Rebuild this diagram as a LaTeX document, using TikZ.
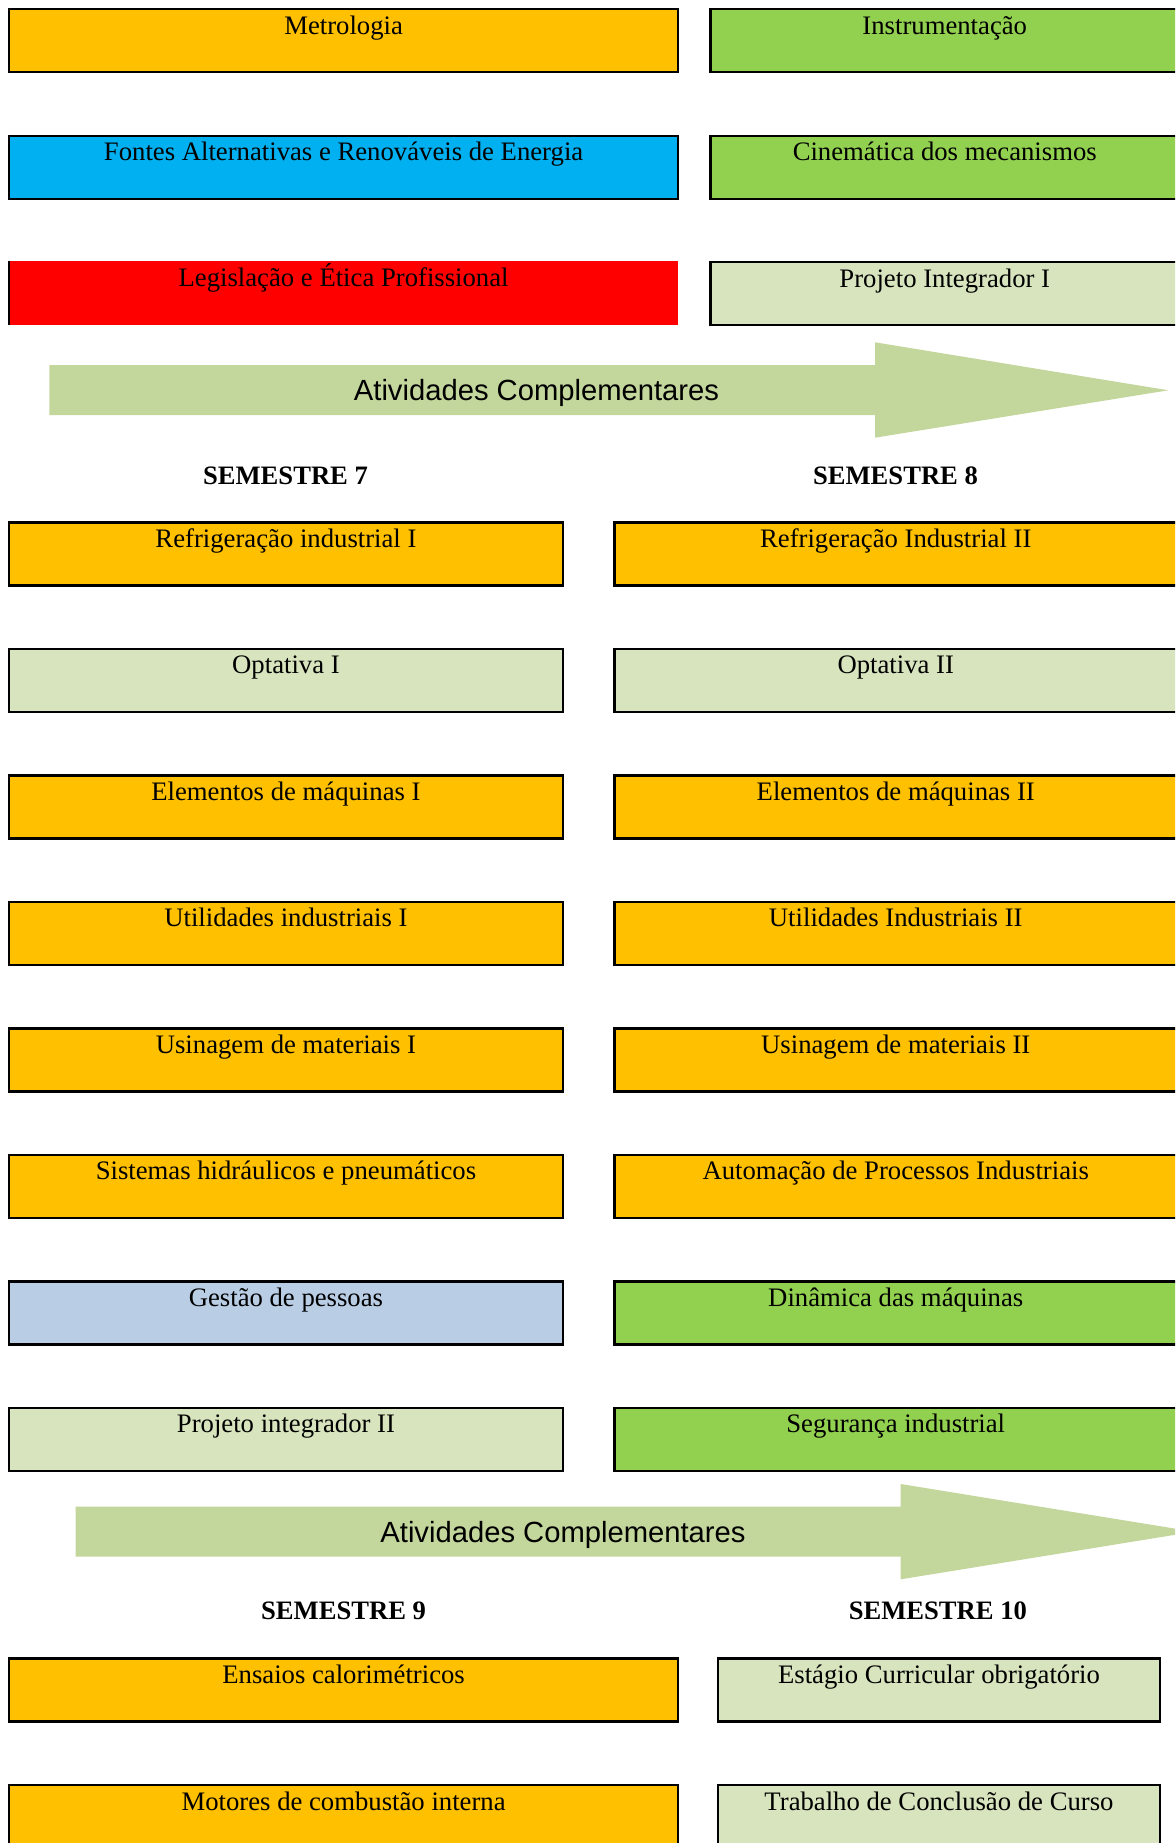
\documentclass[tikz,border=0pt]{standalone}
\usepackage{fontspec}
\setmainfont{Liberation Serif}
\setsansfont{Liberation Sans}
\definecolor{cOrange}{HTML}{FFC000}
\definecolor{cGreen}{HTML}{92D050}
\definecolor{cCyan}{HTML}{00B0F0}
\definecolor{cRed}{HTML}{FF0000}
\definecolor{cLight}{HTML}{D7E4BD}
\definecolor{cBlue}{HTML}{B9CDE5}
\definecolor{cArrow}{HTML}{C3D69B}
\tikzset{
  subjbox/.style={rectangle, draw=black, line width=2.2pt, outer sep=0pt, inner sep=0pt, anchor=north west, minimum height=63pt},
  subjtext/.style={anchor=base, inner sep=0pt, font=\fontsize{26.7pt}{32pt}\selectfont},
  semtext/.style={anchor=base, inner sep=0pt, font=\fontsize{26.6pt}{32pt}\selectfont\bfseries},
  arrowtext/.style={anchor=base, inner sep=0pt, font=\sffamily\fontsize{29.2pt}{34pt}\selectfont},
  bigarrow/.style={fill=cArrow, draw=none}
}
\newcommand\mysubj[6]{%
  \node[subjbox, fill=#5, minimum width=#4pt] (#1) at (#2,-#3) {};
  \node[subjtext] (#1t) at ([yshift=-25pt]#1.north) {#6};
}
\begin{document}
\begin{tikzpicture}[x=1pt,y=1pt]
\useasboundingbox (0,0) rectangle (1175,-1843);
\fill[white] (0,0) rectangle (1175,-1843);
\clip (0,0) rectangle (1175,-1843);

% top section
\mysubj{met}{9.2}{9.2}{668.8}{cOrange}{Metrologia}
\mysubj{ins}{710.5}{9.2}{468.5}{cGreen}{Instrumentação}
\mysubj{fon}{9.2}{135.8}{668.8}{cCyan}{Fontes Alternativas e Renováveis de Energia}
\mysubj{cin}{710.5}{135.8}{468.5}{cGreen}{Cinemática dos mecanismos}
\node[subjbox, draw=none, fill=cRed, minimum width=668.8pt, minimum height=64pt] (leg) at (9.2,-261) {};
\node[subjtext] (legt) at ([yshift=-26pt]leg.north) {Legislação e Ética Profissional};
\draw[line width=1.7pt] (leg.north west) -- (leg.south west);
\mysubj{pi1}{710.5}{262.4}{468.5}{cLight}{Projeto Integrador I}

% arrow 1
\fill[bigarrow] (49.3,-365) -- (875,-365) -- (875,-342.3) -- (1168.3,-390.3) -- (875,-437.7) -- (875,-415) -- (49.3,-415) -- cycle;
\node[arrowtext] (ac1) at (536.5,-400.5) {Atividades Complementares};

\node[semtext] (s7) at (285.5,-484.3) {SEMESTRE 7};
\node[semtext] (s8) at (895.5,-484.3) {SEMESTRE 8};

% middle section
\mysubj{a1}{9.2}{522.4}{553.5}{cOrange}{Refrigeração industrial I}
\mysubj{b1}{614.5}{522.4}{562.5}{cOrange}{Refrigeração Industrial II}
\mysubj{a2}{9.2}{648.9}{553.5}{cLight}{Optativa I}
\mysubj{b2}{614.5}{648.9}{562.5}{cLight}{Optativa II}
\mysubj{a3}{9.2}{775.4}{553.5}{cOrange}{Elementos de máquinas I}
\mysubj{b3}{614.5}{775.4}{562.5}{cOrange}{Elementos de máquinas II}
\mysubj{a4}{9.2}{901.9}{553.5}{cOrange}{Utilidades industriais I}
\mysubj{b4}{614.5}{901.9}{562.5}{cOrange}{Utilidades Industriais II}
\mysubj{a5}{9.2}{1028.4}{553.5}{cOrange}{Usinagem de materiais I}
\mysubj{b5}{614.5}{1028.4}{562.5}{cOrange}{Usinagem de materiais II}
\mysubj{a6}{9.2}{1154.9}{553.5}{cOrange}{Sistemas hidráulicos e pneumáticos}
\mysubj{b6}{614.5}{1154.9}{562.5}{cOrange}{Automação de Processos Industriais}
\mysubj{a7}{9.2}{1281.4}{553.5}{cBlue}{Gestão de pessoas}
\mysubj{b7}{614.5}{1281.4}{562.5}{cGreen}{Dinâmica das máquinas}
\mysubj{a8}{9.2}{1407.9}{553.5}{cLight}{Projeto integrador II}
\mysubj{b8}{614.5}{1407.9}{562.5}{cGreen}{Segurança industrial}

% arrow 2
\fill[bigarrow] (75.7,-1506.7) -- (900.7,-1506.7) -- (900.7,-1484) -- (1194,-1531.7) -- (900.7,-1579.3) -- (900.7,-1556.7) -- (75.7,-1556.7) -- cycle;
\node[arrowtext] (ac2) at (563,-1542.5) {Atividades Complementares};

\node[semtext] (s9) at (343.6,-1619.3) {SEMESTRE 9};
\node[semtext] (s10) at (937.8,-1619.3) {SEMESTRE 10};

% bottom section
\mysubj{c1}{9.2}{1658.5}{668.8}{cOrange}{Ensaios calorimétricos}
\mysubj{d1}{718}{1658.5}{442}{cLight}{Estágio Curricular obrigatório}
\mysubj{c2}{9.2}{1785}{668.8}{cOrange}{Motores de combustão interna}
\mysubj{d2}{718}{1785}{442}{cLight}{Trabalho de Conclusão de Curso}
\end{tikzpicture}
\end{document}
